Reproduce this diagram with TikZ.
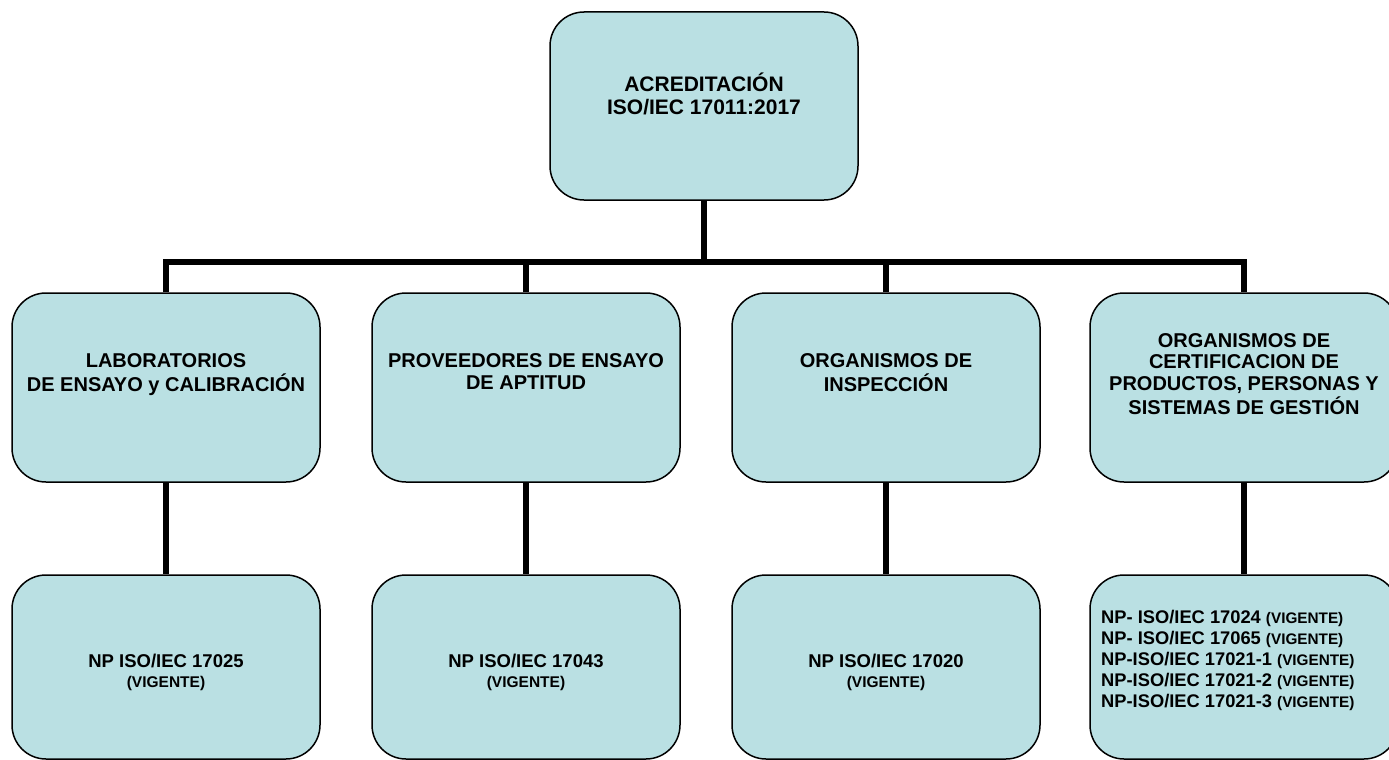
\documentclass[tikz,border=0pt]{standalone}
\usepackage{fontspec}
\setmainfont{Liberation Sans}
\definecolor{boxfill}{RGB}{186,224,227}
\begin{document}
\begin{tikzpicture}[x=1pt,y=-1pt,
  box/.style={draw=black, fill=boxfill, line width=1.5pt, rounded corners=34pt, minimum width=308pt, inner sep=0pt},
  topbox/.style={box, minimum height=188pt},
  midbox/.style={box, minimum height=189pt},
  botbox/.style={box, minimum height=184pt},
  lbl/.style={anchor=base, inner sep=0pt, align=center},
  conn/.style={line width=6pt, line join=miter},
  vconn/.style={line width=5.5pt}]
\useasboundingbox (0,0) rectangle (1389,760);
\clip (0,0) rectangle (1389,760);
\fill[white] (0,0) rectangle (1389,760);
% boxes
\node[topbox] (top) at (704,106) {};
\node[midbox] (m1) at (166,387.5) {};
\node[midbox] (m2) at (526,387.5) {};
\node[midbox] (m3) at (886,387.5) {};
\node[midbox] (m4) at (1244,387.5) {};
\node[botbox] (b1) at (166,667) {};
\node[botbox] (b2) at (526,667) {};
\node[botbox] (b3) at (886,667) {};
\node[botbox] (b4) at (1244,667) {};
% connectors
\coordinate (jt) at (704,262);
\coordinate (j1) at (166,262);
\coordinate (j2) at (526,262);
\coordinate (j3) at (886,262);
\coordinate (j4) at (1244,262);
\draw[conn] (m1.north) -- (j1) -- (j4) -- (m4.north);
\draw[vconn] (top.south) -- (jt);
\draw[vconn] (m2.north) -- (j2);
\draw[vconn] (m3.north) -- (j3);
\draw[vconn] (m1.south) -- (b1.north);
\draw[vconn] (m2.south) -- (b2.north);
\draw[vconn] (m3.south) -- (b3.north);
\draw[vconn] (m4.south) -- (b4.north);
% texts
\node[lbl, font=\bfseries\fontsize{21}{23.5}\selectfont] (ttop) at (704,91)
  {\begin{tabular}[t]{@{}c@{}}ACREDITACIÓN\\ISO/IEC 17011:2017\end{tabular}};
\node[lbl, font=\bfseries\fontsize{20}{22.5}\selectfont] (tm1) at (166,367)
  {\begin{tabular}[t]{@{}c@{}}LABORATORIOS\\DE ENSAYO y CALIBRACIÓN\end{tabular}};
\node[lbl, font=\bfseries\fontsize{20}{22.5}\selectfont] (tm2) at (526,367)
  {\begin{tabular}[t]{@{}c@{}}PROVEEDORES DE ENSAYO\\DE APTITUD\end{tabular}};
\node[lbl, font=\bfseries\fontsize{20}{22.5}\selectfont] (tm3) at (886,367)
  {\begin{tabular}[t]{@{}c@{}}ORGANISMOS DE\\INSPECCIÓN\end{tabular}};
\node[lbl, font=\bfseries\fontsize{20}{21.8}\selectfont] (tm4) at (1244,347)
  {\begin{tabular}[t]{@{}c@{}}ORGANISMOS DE\\CERTIFICACION DE\\PRODUCTOS, PERSONAS Y\\SISTEMAS DE GESTIÓN\end{tabular}};
\node[lbl, font=\bfseries\fontsize{18.5}{20}\selectfont] (tb1) at (166,667)
  {\begin{tabular}[t]{@{}c@{}}NP ISO/IEC 17025\\{\fontsize{15.5}{20}\selectfont (VIGENTE)}\end{tabular}};
\node[lbl, font=\bfseries\fontsize{18.5}{20}\selectfont] (tb2) at (526,667)
  {\begin{tabular}[t]{@{}c@{}}NP ISO/IEC 17043\\{\fontsize{15.5}{20}\selectfont (VIGENTE)}\end{tabular}};
\node[lbl, font=\bfseries\fontsize{18.5}{20}\selectfont] (tb3) at (886,667)
  {\begin{tabular}[t]{@{}c@{}}NP ISO/IEC 17020\\{\fontsize{15.5}{20}\selectfont (VIGENTE)}\end{tabular}};
\node[lbl, anchor=base west, font=\bfseries\fontsize{18.3}{21.2}\selectfont] (tb4) at (1101,623)
  {\begin{tabular}[t]{@{}l@{}}NP- ISO/IEC 17024 {\fontsize{15.3}{21.2}\selectfont (VIGENTE)}\\
  NP- ISO/IEC 17065 {\fontsize{15.3}{21.2}\selectfont (VIGENTE)}\\
  NP-ISO/IEC 17021-1 {\fontsize{15.3}{21.2}\selectfont (VIGENTE)}\\
  NP-ISO/IEC 17021-2 {\fontsize{15.3}{21.2}\selectfont (VIGENTE)}\\
  NP-ISO/IEC 17021-3 {\fontsize{15.3}{21.2}\selectfont (VIGENTE)}\end{tabular}};
\end{tikzpicture}
\end{document}
